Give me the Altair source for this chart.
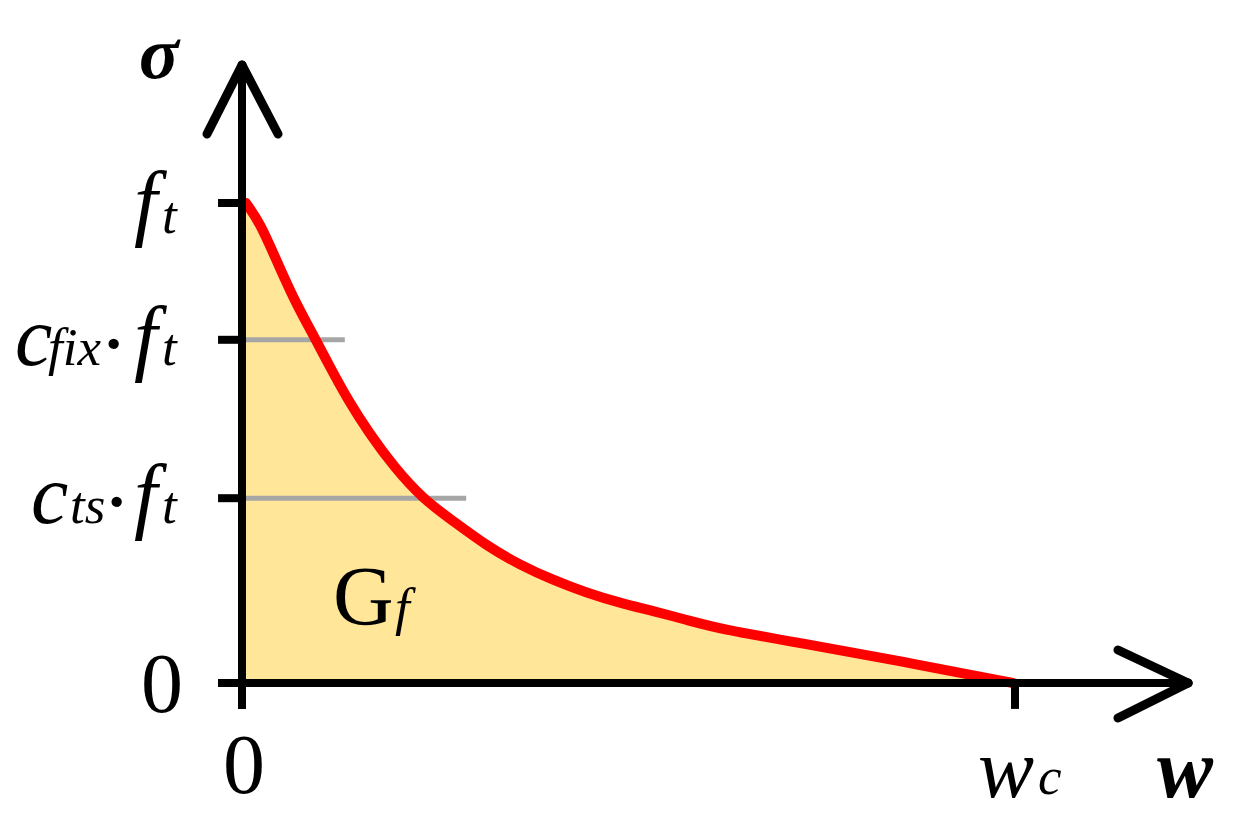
import altair as alt
import pandas as pd

# ---- data (w normalised by w_c, sigma by f_t) ----
w_curve = [0.0052, 0.0233, 0.0427, 0.0673, 0.0957, 0.1138, 0.1371, 0.1643,
           0.1966, 0.2342, 0.2730, 0.3169, 0.3596, 0.4023, 0.4463, 0.4890,
           0.5317, 0.5757, 0.6184, 0.7219, 0.8512, 0.9974]
sigma_curve = [1.0, 0.9583, 0.8875, 0.7979, 0.7146, 0.6583, 0.5896, 0.5208,
               0.4500, 0.3833, 0.3375, 0.2854, 0.2458, 0.2146, 0.1875, 0.1667,
               0.1500, 0.1313, 0.1125, 0.0833, 0.0458, 0.0]

c_fix = 0.715
c_ts = 0.385
guide_levels = [c_fix, c_ts]
guide_ends = [0.133, 0.290]

y_tick_values = [1.0, c_fix, c_ts, 0.0]
x_tick_values = [1.0]

# axis extents (arrow tips)
w_max = 1.224
s_max = 1.2875

# text annotations: pieces of each label
main_text = ["f", "c", "f", "c", "f", "w"]
main_x = [-0.1397, -0.2937, -0.1397, -0.2730, -0.1397, 0.9521]
main_y = [0.94375, 0.6625, 0.6625, 0.3333, 0.3333, -0.2375]

sub_text = ["t", "fix", "t", "ts", "t", "c", "f"]
sub_x = [-0.1035, -0.2510, -0.1035, -0.2225, -0.1035, 1.0298, 0.198]
sub_y = [0.9375, 0.6625, 0.6625, 0.3333, 0.3333, -0.23125, 0.1208]

dot_x = [-0.1798, -0.1760]
dot_y = [0.6625, 0.3333]

roman_text = ["0", "0", "G"]
roman_x = [-0.1035, 0.0026, 0.1177]
roman_y = [-0.0604, -0.2292, 0.1208]
roman_align = ["center", "center", "left"]

bold_text = ["σ", "w"]
bold_x = [-0.1332, 1.1837]
bold_y = [1.2604, -0.2375]

# ---- scales ----
W, H = 1230, 800
xs = alt.Scale(domain=[-0.30272, 1.28848], nice=False, zero=False)
ys = alt.Scale(domain=[-0.26042, 1.40625], nice=False, zero=False)


def X(f="x"):
    return alt.X(f"{f}:Q", scale=xs, axis=None)


def Y(f="y"):
    return alt.Y(f"{f}:Q", scale=ys, axis=None)


FONT = "Liberation Serif"

curve_df = pd.DataFrame({"x": w_curve, "y": sigma_curve})

area = alt.Chart(curve_df).mark_area(color="#FFE699", interpolate="basis").encode(
    x=X(), y=Y())

guides_df = pd.DataFrame({"x": [0.0] * len(guide_levels), "x2": guide_ends,
                          "y": guide_levels})
guides = alt.Chart(guides_df).mark_rule(color="#A6A6A6", strokeWidth=5).encode(
    x=X(), x2="x2:Q", y=Y())

line = alt.Chart(curve_df).mark_line(color="#FF0000", strokeWidth=10,
                                      interpolate="basis", strokeCap="round").encode(
    x=X(), y=Y())

# axis lines
axes_df = pd.DataFrame({
    "x": [0.0, -0.031],
    "x2": [0.0, w_max],
    "y": [-0.054, 0.0],
    "y2": [s_max, 0.0],
})
axes = alt.Chart(axes_df).mark_rule(color="black", strokeWidth=8).encode(
    x=X(), x2="x2:Q", y=Y(), y2="y2:Q")

# ticks
yt_df = pd.DataFrame({"x": [-0.031] * len(y_tick_values), "x2": [0.0] * len(y_tick_values),
                      "y": y_tick_values})
yticks = alt.Chart(yt_df).mark_rule(color="black", strokeWidth=8).encode(
    x=X(), x2="x2:Q", y=Y())
xt_df = pd.DataFrame({"x": x_tick_values, "y": [-0.054] * len(x_tick_values),
                      "y2": [0.0] * len(x_tick_values)})
xticks = alt.Chart(xt_df).mark_rule(color="black", strokeWidth=8).encode(
    x=X(), y=Y(), y2="y2:Q")

# arrow heads
arrows_df = pd.DataFrame({
    "x": [0.0, 0.0, w_max, w_max],
    "y": [s_max, s_max, 0.0, 0.0],
    "x2": [-0.0453, 0.0466, 1.1332, 1.1332],
    "y2": [1.1438, 1.1438, 0.06875, -0.0729],
})
arrows = alt.Chart(arrows_df).mark_rule(color="black", strokeWidth=9, strokeCap="round").encode(
    x=X(), x2="x2:Q", y=Y(), y2="y2:Q")

main_df = pd.DataFrame({"t": main_text, "x": main_x, "y": main_y})
main = alt.Chart(main_df).mark_text(font=FONT, fontSize=84, fontStyle="italic",
                                     align="left", baseline="alphabetic", color="black").encode(
    x=X(), y=Y(), text="t:N")

sub_df = pd.DataFrame({"t": sub_text, "x": sub_x, "y": sub_y})
sub = alt.Chart(sub_df).mark_text(font=FONT, fontSize=53, fontStyle="italic",
                                   align="left", baseline="alphabetic", color="black").encode(
    x=X(), y=Y(), text="t:N")

dot_df = pd.DataFrame({"t": ["·"] * len(dot_x), "x": dot_x, "y": dot_y})
dots = alt.Chart(dot_df).mark_text(font=FONT, fontSize=64, fontWeight="bold",
                                    align="left", baseline="alphabetic", color="black").encode(
    x=X(), y=Y(), text="t:N")

roman_df = pd.DataFrame({"t": roman_text, "x": roman_x, "y": roman_y, "a": roman_align})
roman_c = alt.Chart(roman_df[roman_df["a"] == "center"]).mark_text(
    font=FONT, fontSize=84, align="center", baseline="alphabetic", color="black").encode(
    x=X(), y=Y(), text="t:N")
roman_l = alt.Chart(roman_df[roman_df["a"] == "left"]).mark_text(
    font=FONT, fontSize=84, align="left", baseline="alphabetic", color="black").encode(
    x=X(), y=Y(), text="t:N")

bold_df = pd.DataFrame({"t": bold_text, "x": bold_x, "y": bold_y})
bold_sigma = alt.Chart(bold_df[bold_df["t"] == "σ"]).mark_text(
    font=FONT, fontSize=74, fontStyle="italic", fontWeight="bold",
    align="left", baseline="alphabetic", color="black").encode(
    x=X(), y=Y(), text="t:N")
bold_w = alt.Chart(bold_df[bold_df["t"] == "w"]).mark_text(
    font=FONT, fontSize=84, fontStyle="italic", fontWeight="bold",
    align="left", baseline="alphabetic", color="black").encode(
    x=X(), y=Y(), text="t:N")

chart = alt.layer(area, guides, line, axes, yticks, xticks, arrows,
                  main, sub, dots, roman_c, roman_l, bold_sigma, bold_w).properties(
    width=W, height=H, padding=0, background="white"
).configure_view(stroke=None)

chart.save("out.html", embed_options={"renderer": "svg", "actions": False})
